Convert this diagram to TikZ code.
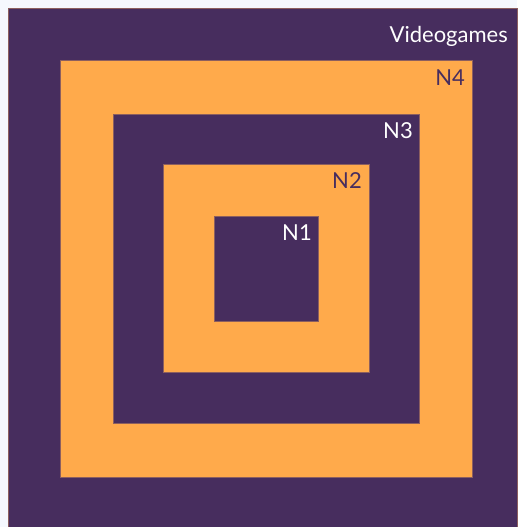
\documentclass[tikz,border=0pt]{standalone}
\usepackage{fontspec}
\setmainfont{Lato}
\definecolor{gamepurple}{RGB}{71,45,94}
\definecolor{gameorange}{RGB}{255,170,75}
\definecolor{gameback}{RGB}{245,248,254}
\definecolor{gameedge}{RGB}{140,95,95}
\tikzset{
  purplebox/.style={fill=gamepurple, draw=gameedge, line width=0.4pt},
  orangebox/.style={fill=gameorange, draw=gameedge, line width=0.4pt},
  lightlabel/.style={anchor=base east, inner sep=0pt, text=white, font=\fontsize{22}{26}\selectfont},
  darklabel/.style={anchor=base east, inner sep=0pt, text=gamepurple, font=\fontsize{22}{26}\selectfont}
}
\begin{document}
\begin{tikzpicture}[x=1pt, y=-1pt]

% Background
\fill[gameback] (0, 0) rectangle (517, 527);
\useasboundingbox (0, 0) rectangle (517, 527);

% Nested squares
\filldraw[purplebox] (8, 8) rectangle (517, 527);
\filldraw[orangebox] (60, 60) rectangle (472, 477);
\filldraw[purplebox] (113, 114) rectangle (419, 423);
\filldraw[orangebox] (163, 164) rectangle (369, 372);
\filldraw[purplebox] (214, 216) rectangle (318, 321);

% Level labels
\node[lightlabel] (games) at (508, 43) {Videogames};
\node[darklabel] (n4) at (465, 85) {N4};
\node[lightlabel] (n3) at (413, 138) {N3};
\node[darklabel] (n2) at (362, 188) {N2};
\node[lightlabel] (n1) at (312, 240) {N1};

\end{tikzpicture}
\end{document}
